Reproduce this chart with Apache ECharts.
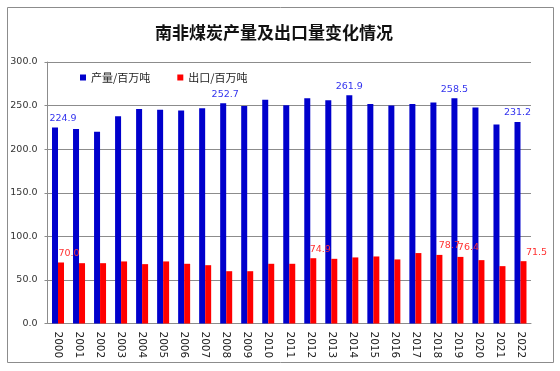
<!DOCTYPE html>
<html>
<head>
<meta charset="utf-8">
<script src="https://cdn.jsdelivr.net/npm/echarts@6/dist/echarts.min.js"></script>
<style>
html,body{margin:0;padding:0;background:#fff;}
#chart{width:560px;height:371px;}
</style>
</head>
<body>
<div id="chart"></div>
<script>
var titleText = '南非煤炭产量及出口量变化情况';
var years = ['2000','2001','2002','2003','2004','2005','2006','2007','2008','2009','2010','2011','2012','2013','2014','2015','2016','2017','2018','2019','2020','2021','2022'];
var seriesNames = ['产量/百万吨', '出口/百万吨'];
var production = [224.9, 223.1, 220.1, 237.9, 246.2, 245.1, 244.3, 247.0, 252.7, 249.6, 256.8, 250.4, 258.3, 256.1, 261.9, 251.9, 250.0, 251.9, 253.4, 258.5, 247.7, 228.4, 231.2];
var exportsVal = [70.0, 69.2, 69.2, 71.2, 68.1, 71.2, 68.5, 66.9, 60.0, 60.0, 68.5, 68.5, 74.9, 74.2, 75.8, 76.9, 73.5, 80.8, 78.7, 76.4, 72.7, 65.8, 71.5];
var yTicks = [0, 50, 100, 150, 200, 250, 300];
var productionLabelIdx = [0, 8, 14, 19, 22];
var exportLabelIdx = [0, 12, 18, 19, 22];

// label placement (style only)
var prodLabelOffset = {0: [8, 0], 8: [2, 0], 14: [0, 0], 19: [0, 0], 22: [0, 0]};
var expLabelOffset = {0: [8, 0], 12: [7, 0], 18: [10, 0], 19: [8, 0], 22: [13, 0]};

function buildData(values, idxList, offsets, color) {
  return values.map(function (v, i) {
    if (idxList.indexOf(i) >= 0) {
      return {
        value: v,
        label: {
          show: true, position: 'top', distance: 4,
          offset: offsets[i] || [0, 0],
          color: color, fontSize: 9.5, fontFamily: 'DejaVu Sans',
          formatter: function (p) { return Number(p.value).toFixed(1); }
        }
      };
    }
    return v;
  });
}

var chart = echarts.init(document.getElementById('chart'), null, {renderer: 'canvas'});
chart.setOption({
  backgroundColor: '#ffffff',
  animation: false,
  graphic: [{
    type: 'rect', left: 5, top: 5,
    shape: {width: 546, height: 355},
    style: {fill: 'none', stroke: '#8c8c8c', lineWidth: 1}
  }],
  title: {
    text: titleText,
    left: 150, top: 19,
    textStyle: {fontFamily: 'Noto Sans CJK SC', fontSize: 17, fontWeight: 'bold', color: '#111'}
  },
  legend: {
    left: 80, top: 72, padding: 0,
    icon: 'rect', itemWidth: 6, itemHeight: 6, itemGap: 27,
    textStyle: {fontFamily: 'Noto Sans CJK SC', fontSize: 11, color: '#222'},
    data: seriesNames
  },
  grid: {left: 47.5, right: 29, top: 62, bottom: 47.5, containLabel: false},
  xAxis: {
    type: 'category', data: years,
    axisLine: {lineStyle: {color: '#8c8c8c', width: 1}},
    axisTick: {show: false},
    axisLabel: {rotate: -90, margin: 8, fontFamily: 'DejaVu Sans', fontSize: 10.5, color: '#222', interval: 0}
  },
  yAxis: {
    type: 'value', min: yTicks[0], max: yTicks[yTicks.length - 1], interval: yTicks[1] - yTicks[0],
    axisLine: {show: true, lineStyle: {color: '#8c8c8c', width: 1}},
    axisTick: {show: true, length: 3, lineStyle: {color: '#8c8c8c'}},
    splitLine: {lineStyle: {color: '#8c8c8c', width: 1}},
    axisLabel: {margin: 10, fontFamily: 'DejaVu Sans', fontSize: 9.5, color: '#333',
      formatter: function (v) { return v.toFixed(1); }}
  },
  series: [
    {
      name: seriesNames[0], type: 'bar', barWidth: 6, barGap: '0%',
      itemStyle: {color: '#0000CC'},
      data: buildData(production, productionLabelIdx, prodLabelOffset, '#3333EE')
    },
    {
      name: seriesNames[1], type: 'bar', barWidth: 6, barGap: '0%',
      itemStyle: {color: '#FF0000'},
      data: buildData(exportsVal, exportLabelIdx, expLabelOffset, '#FF3333')
    }
  ]
});
</script>
</body>
</html>
